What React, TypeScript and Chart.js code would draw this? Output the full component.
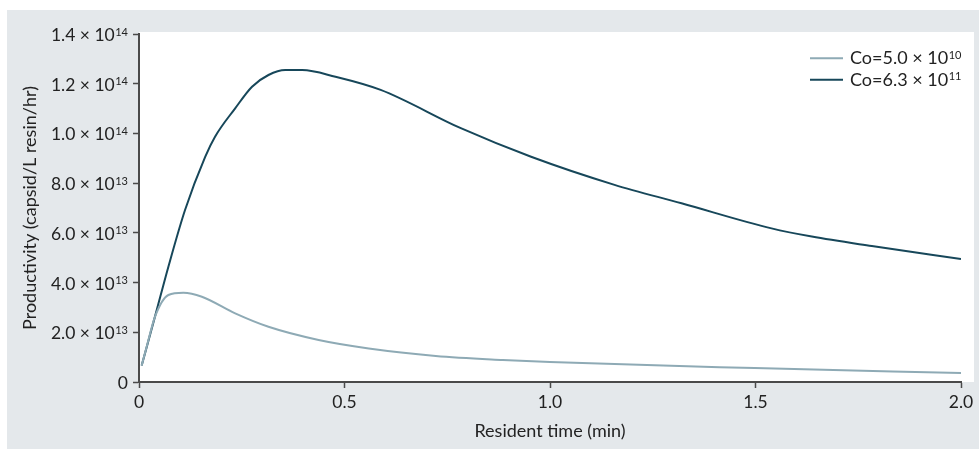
import React, { useEffect, useRef } from "react";
import { Chart, registerables } from "chart.js";

Chart.register(...registerables);

// ---- data ----
const SERIES_NAMES_MAIN = ["Co=5.0 × 10", "Co=6.3 × 10"];
const SERIES_NAMES_SUP = ["10", "11"];
const SERIES_COLORS = ["#8eaab5", "#17475a"];

const LOW_X = [0.0065, 0.02, 0.039, 0.0715, 0.108, 0.153, 0.234, 0.315, 0.437, 0.559, 0.722, 0.885, 1.0, 1.498, 2.0];
const LOW_Y = [0.66e13, 1.5e13, 2.63e13, 3.5e13, 3.59e13, 3.43e13, 2.76e13, 2.22e13, 1.69e13, 1.35e13, 1.05e13, 0.885e13, 0.8e13, 0.56e13, 0.36e13];

const HIGH_X = [0.0065, 0.04, 0.0715, 0.112, 0.161, 0.185, 0.234, 0.275, 0.315, 0.356, 0.397, 0.478, 0.588, 0.783, 0.954, 1.157, 1.32, 1.539, 1.637, 1.783, 2.0];
const HIGH_Y = [0.066e14, 0.27e14, 0.464e14, 0.692e14, 0.906e14, 0.987e14, 1.101e14, 1.188e14, 1.235e14, 1.255e14, 1.255e14, 1.228e14, 1.175e14, 1.021e14, 0.906e14, 0.793e14, 0.719e14, 0.618e14, 0.585e14, 0.547e14, 0.495e14];

const Y_TICK_VALUES = [0, 2e13, 4e13, 6e13, 8e13, 1e14, 1.2e14, 1.4e14];
const Y_TICK_MAIN = ["0", "2.0 × 10", "4.0 × 10", "6.0 × 10", "8.0 × 10", "1.0 × 10", "1.2 × 10", "1.4 × 10"];
const Y_TICK_SUP = ["", "13", "13", "13", "13", "14", "14", "14"];

const X_TICK_VALUES = [0, 0.5, 1.0, 1.5, 2.0];
const X_TICK_LABELS = ["0", "0.5", "1.0", "1.5", "2.0"];

const X_TITLE = "Resident time (min)";
const Y_TITLE = "Productivity (capsid/L resin/hr)";

const FONT = "Lato";
const TEXT = "#222222";
const AXIS = "#4a4a4a";

const bgPlugin = {
  id: "bgPlugin",
  beforeDraw(chart: any) {
    const { ctx, chartArea: a } = chart;
    ctx.save();
    ctx.fillStyle = "#e4e8eb";
    ctx.fillRect(7, 10, 972, 439);
    ctx.fillStyle = "#ffffff";
    ctx.fillRect(a.left, a.top - 2, a.right + 13 - a.left, a.bottom - a.top + 2);
    ctx.restore();
  },
};

const labelPlugin = {
  id: "labelPlugin",
  afterDraw(chart: any) {
    const { ctx } = chart;
    const ys = chart.scales.y;
    ctx.save();
    ctx.fillStyle = TEXT;
    const right = ys.right - 11;
    Y_TICK_VALUES.forEach((v, i) => {
      const py = ys.getPixelForValue(v);
      ctx.textAlign = "right";
      ctx.textBaseline = "alphabetic";
      let supW = 0;
      if (Y_TICK_SUP[i]) {
        ctx.font = `11px ${FONT}`;
        supW = ctx.measureText(Y_TICK_SUP[i]).width;
        ctx.fillText(Y_TICK_SUP[i], right, py + 1.5);
      }
      ctx.font = `17.5px ${FONT}`;
      ctx.fillText(Y_TICK_MAIN[i], right - supW - (supW ? 0.5 : 0), py + 7);
    });

    // legend
    SERIES_NAMES_MAIN.forEach((name, i) => {
      const y0 = 58.3 + i * 21.5;
      ctx.strokeStyle = SERIES_COLORS[i];
      ctx.lineWidth = 2;
      ctx.beginPath();
      ctx.moveTo(810, y0);
      ctx.lineTo(843, y0);
      ctx.stroke();
      ctx.textAlign = "left";
      ctx.font = `18px ${FONT}`;
      ctx.fillStyle = TEXT;
      ctx.fillText(name, 850, y0 + 6);
      const w = ctx.measureText(name).width;
      ctx.font = `11px ${FONT}`;
      ctx.fillText(SERIES_NAMES_SUP[i], 850 + w + 0.5, y0 + 0.5);
    });
    ctx.restore();
  },
};

export default function App() {
  const ref = useRef<HTMLCanvasElement | null>(null);
  useEffect(() => {
    let chart: Chart | null = null;
    let cancelled = false;
    const make = () => {
      if (cancelled || !ref.current) return;
      const mk = (xs: number[], ys: number[]) => xs.map((x, i) => ({ x, y: ys[i] }));
      chart = new Chart(ref.current, {
        type: "line",
        data: {
          datasets: [
            {
              label: SERIES_NAMES_MAIN[0] + SERIES_NAMES_SUP[0],
              data: mk(LOW_X, LOW_Y),
              borderColor: SERIES_COLORS[0],
              borderWidth: 2,
              pointRadius: 0,
              cubicInterpolationMode: "monotone",
              fill: false,
            },
            {
              label: SERIES_NAMES_MAIN[1] + SERIES_NAMES_SUP[1],
              data: mk(HIGH_X, HIGH_Y),
              borderColor: SERIES_COLORS[1],
              borderWidth: 2,
              pointRadius: 0,
              cubicInterpolationMode: "monotone",
              fill: false,
            },
          ],
        },
        options: {
          animation: false,
          responsive: false,
          events: [],
          layout: { padding: { top: 34, right: 18, bottom: 0, left: 0 } },
          plugins: { legend: { display: false }, tooltip: { enabled: false } },
          scales: {
            x: {
              type: "linear",
              min: 0,
              max: 2,
              afterFit: (s: any) => {
                s.height = 67;
              },
              afterBuildTicks: (s: any) => {
                s.ticks = X_TICK_VALUES.map((v) => ({ value: v }));
              },
              ticks: {
                callback: (v: any) => X_TICK_LABELS[X_TICK_VALUES.indexOf(Number(v))] ?? "",
                font: { family: FONT, size: 17.5 },
                color: TEXT,
                padding: 4,
                maxRotation: 0,
              },
              grid: {
                display: true,
                drawOnChartArea: false,
                drawTicks: true,
                tickLength: 6,
                tickColor: AXIS,
                tickWidth: 1.5,
              },
              border: { display: true, color: AXIS, width: 2 },
              title: {
                display: true,
                text: X_TITLE,
                font: { family: FONT, size: 18 },
                color: TEXT,
                padding: { top: 0, bottom: 7 },
              },
            },
            y: {
              type: "linear",
              min: 0,
              max: 1.4e14,
              afterFit: (s: any) => {
                s.width = 139;
              },
              afterBuildTicks: (s: any) => {
                s.ticks = Y_TICK_VALUES.map((v) => ({ value: v }));
              },
              ticks: {
                color: "rgba(0,0,0,0)",
                font: { family: FONT, size: 17 },
              },
              grid: {
                display: true,
                drawOnChartArea: false,
                drawTicks: true,
                tickLength: 6,
                tickColor: AXIS,
                tickWidth: 1.5,
              },
              border: { display: true, color: AXIS, width: 2 },
              title: {
                display: true,
                text: Y_TITLE,
                font: { family: FONT, size: 18 },
                color: TEXT,
                padding: { top: 19, bottom: 0 },
              },
            },
          },
        },
        plugins: [bgPlugin, labelPlugin],
      } as any);
    };
    const fontsReady = (document as any).fonts
      ? Promise.all([
          (document as any).fonts.load(`17px ${FONT}`),
          (document as any).fonts.load(`11px ${FONT}`),
        ]).catch(() => null)
      : Promise.resolve(null);
    fontsReady.then(make);
    return () => {
      cancelled = true;
      if (chart) chart.destroy();
    };
  }, []);
  return (
    <div style={{ position: "absolute", left: 0, top: 0, width: 979, height: 449 }}>
      <canvas ref={ref} width={979} height={449} style={{ display: "block", width: 979, height: 449 }} />
    </div>
  );
}
